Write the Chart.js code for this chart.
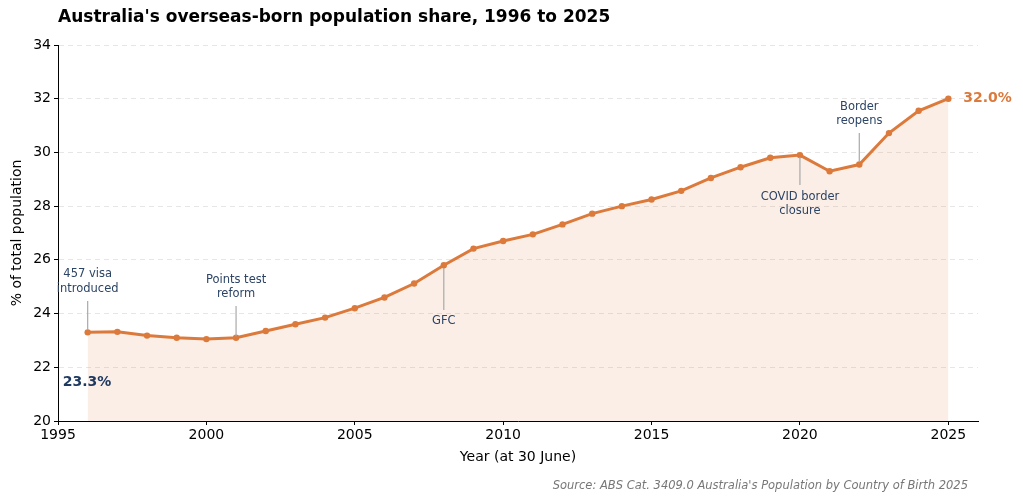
<!DOCTYPE html>
<html>
<head>
<meta charset="utf-8">
<script src="https://cdn.jsdelivr.net/npm/chart.js@4"></script>
<style>
  html, body { margin: 0; padding: 0; background: #fff; }
  #wrap { width: 1023px; height: 503px; }
</style>
</head>
<body>
<div id="wrap"><canvas id="popChart" width="1023" height="503"></canvas></div>
<script>
const years = [1996, 1997, 1998, 1999, 2000, 2001, 2002, 2003, 2004, 2005,
               2006, 2007, 2008, 2009, 2010, 2011, 2012, 2013, 2014, 2015,
               2016, 2017, 2018, 2019, 2020, 2021, 2022, 2023, 2024, 2025];
const sharePct = [23.3, 23.32, 23.18, 23.1, 23.05, 23.1, 23.35, 23.6, 23.85, 24.2,
                  24.6, 25.12, 25.8, 26.42, 26.7, 26.95, 27.32, 27.72, 28.0, 28.25,
                  28.57, 29.05, 29.45, 29.8, 29.9, 29.3, 29.55, 30.72, 31.55, 32.0];
const xTicks = [1995, 2000, 2005, 2010, 2015, 2020, 2025];
const yTicks = [20, 22, 24, 26, 28, 30, 32, 34];

// annotations: year, text lines, centre of the text block (data units), leader line from/to
const notes = [
    { year: 1996, lines: ["457 visa", "introduced"], textY: 25.19, lineFrom: 24.47, lineTo: 23.39 },
    { year: 2001, lines: ["Points test", "reform"], textY: 24.99, lineFrom: 24.28, lineTo: 23.16 },
    { year: 2008, lines: ["GFC"], textY: 23.72, lineFrom: 24.13, lineTo: 25.7 },
    { year: 2020, lines: ["COVID border", "closure"], textY: 28.08, lineFrom: 28.79, lineTo: 29.83 },
    { year: 2022, lines: ["Border", "reopens"], textY: 31.43, lineFrom: 30.72, lineTo: 29.64 }
];

const orange = "#dc7a3c";
const navy = "#1f3a60";
const noteColor = "#2c4466";

const overlay = {
    id: "overlay",
    afterDraw(chart) {
        const ctx = chart.ctx;
        const x = chart.scales.x, y = chart.scales.y;
        ctx.save();

        // title
        ctx.fillStyle = "#000";
        ctx.font = "bold 17px 'DejaVu Sans'";
        ctx.textAlign = "left";
        ctx.textBaseline = "middle";
        ctx.fillText("Australia's overseas-born population share, 1996 to 2025", 58, 18);

        // source
        ctx.fillStyle = "#777";
        ctx.font = "italic 11.5px 'DejaVu Sans'";
        ctx.textAlign = "right";
        ctx.fillText("Source: ABS Cat. 3409.0 Australia's Population by Country of Birth 2025", 968, 486);

        // annotations
        notes.forEach(n => {
            const px = x.getPixelForValue(n.year);
            ctx.strokeStyle = "#a9a9a9";
            ctx.lineWidth = 1.2;
            ctx.beginPath();
            ctx.moveTo(px, y.getPixelForValue(n.lineFrom));
            ctx.lineTo(px, y.getPixelForValue(n.lineTo));
            ctx.stroke();

            ctx.fillStyle = noteColor;
            ctx.font = "11.5px 'DejaVu Sans'";
            ctx.textAlign = "center";
            const cy = y.getPixelForValue(n.textY);
            const lh = 14.5;
            const start = cy - (n.lines.length - 1) * lh / 2;
            n.lines.forEach((t, i) => ctx.fillText(t, px, start + i * lh));
        });

        // start / end labels
        const last = sharePct.length - 1;
        ctx.font = "bold 14px 'DejaVu Sans'";
        ctx.textAlign = "left";
        ctx.fillStyle = orange;
        ctx.fillText(sharePct[last].toFixed(1) + "%",
            x.getPixelForValue(years[last]) + 15, y.getPixelForValue(sharePct[last]));
        ctx.fillStyle = navy;
        ctx.fillText(sharePct[0].toFixed(1) + "%",
            x.getPixelForValue(years[0]) - 25, y.getPixelForValue(21.45));

        ctx.restore();
    }
};

new Chart(document.getElementById("popChart"), {
    type: "line",
    data: {
        datasets: [{
            label: "Overseas-born share",
            data: years.map((yr, i) => ({ x: yr, y: sharePct[i] })),
            borderColor: orange,
            borderWidth: 3,
            backgroundColor: "rgba(220,122,60,0.13)",
            fill: "start",
            pointRadius: 3.2,
            pointBorderWidth: 0,
            pointBackgroundColor: orange,
            pointHoverRadius: 3.2,
            tension: 0
        }]
    },
    options: {
        responsive: false,
        animation: false,
        maintainAspectRatio: false,
        layout: { padding: { left: 0, right: 45, top: 45, bottom: 30 } },
        plugins: {
            legend: { display: false },
            tooltip: { enabled: false }
        },
        scales: {
            x: {
                type: "linear",
                min: 1995,
                max: 2026,
                afterBuildTicks: s => { s.ticks = xTicks.map(v => ({ value: v })); },
                afterFit: s => { s.height = 52; },
                grid: { drawOnChartArea: false, drawTicks: true, tickLength: 4, tickColor: "#000" },
                border: { display: true, color: "#000", width: 1 },
                ticks: {
                    color: "#000", font: { family: "DejaVu Sans", size: 14 }, padding: 2,
                    callback: v => String(v)
                },
                title: {
                    display: true, text: "Year (at 30 June)", color: "#000",
                    font: { family: "DejaVu Sans", size: 14 }, padding: { top: 0, bottom: 7 }
                }
            },
            y: {
                min: 20,
                max: 34,
                afterBuildTicks: s => { s.ticks = yTicks.map(v => ({ value: v })); },
                afterFit: s => { s.width = 58; },
                grid: {
                    color: "#e6e6e6", lineWidth: 1,
                    drawTicks: true, tickLength: 4, tickColor: "#000"
                },
                border: { display: true, color: "#000", width: 1, dash: [5, 4] },
                ticks: { color: "#000", font: { family: "DejaVu Sans", size: 14 }, padding: 3 },
                title: {
                    display: true, text: "% of total population", color: "#000",
                    font: { family: "DejaVu Sans", size: 14 }, padding: { top: 9, bottom: 0 }
                }
            }
        }
    },
    plugins: [overlay]
});
</script>
</body>
</html>
